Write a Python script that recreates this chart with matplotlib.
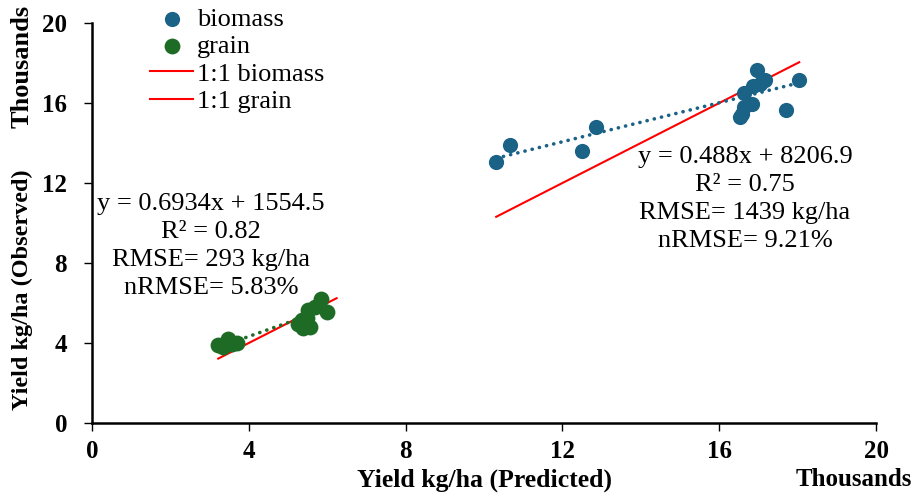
import matplotlib.pyplot as plt
import numpy as np
from matplotlib.ticker import FuncFormatter

# predicted vs observed yield, kg/ha
biomass_pred = [10310, 10660, 12510, 12850, 16960, 17170, 16870, 17040, 18040,
                16620, 16830, 16640, 16570, 16530, 17700]
biomass_obs = [13070, 13920, 13580, 14780, 17650, 17150, 16870, 16930, 17150,
               16480, 15930, 15820, 15430, 15320, 15650]

grain_pred = [3210, 3350, 3460, 3560, 3690, 5250, 5350, 5380, 5480, 5520,
              5560, 5690, 5840, 5990]
grain_obs = [3900, 3800, 4200, 3930, 3980, 4930, 5150, 4750, 5230, 5650,
             4820, 5820, 6200, 5570]

# 1:1 reference segments
one_biomass = [10310, 18040]
one_grain = [3220, 6240]

# linear fits (slope, intercept)
fit_biomass = (0.488, 8206.9)
fit_grain = (0.6934, 1554.5)

ticks = [0, 4000, 8000, 12000, 16000, 20000]

c_bio = '#1b6287'
c_grain = '#1e6b26'
serif = 'Liberation Serif'

fig = plt.figure(figsize=(9.21, 4.96), dpi=100)
ax = fig.add_axes([0.0999, 0.1472, 0.8513, 0.8064])

ax.scatter(biomass_pred, biomass_obs, s=120, color=c_bio, zorder=3, label='biomass', linewidths=0)
ax.scatter(grain_pred, grain_obs, s=130, color=c_grain, zorder=3, label='grain', linewidths=0)
ax.plot(one_biomass, one_biomass, color='red', lw=1.5, label='1:1 biomass', zorder=2)
ax.plot(one_grain, one_grain, color='red', lw=1.5, label='1:1 grain', zorder=2)

# trend lines
for xs, fit, col in [(biomass_pred, fit_biomass, c_bio), (grain_pred, fit_grain, c_grain)]:
    xx = np.array([min(xs), max(xs)])
    ax.plot(xx, fit[0] * xx + fit[1], color=col, lw=2.6, ls=(0, (0.05, 2.0)),
            dash_capstyle='round', zorder=2.5)

ax.set_xlim(0, 20000)
ax.set_ylim(0, 20000)
ax.set_xticks(ticks)
ax.set_yticks(ticks)
fmt = FuncFormatter(lambda v, p: f'{v / 1000:.0f}')
ax.xaxis.set_major_formatter(fmt)
ax.yaxis.set_major_formatter(fmt)

for s in ['top', 'right']:
    ax.spines[s].set_visible(False)
for s in ['left', 'bottom']:
    ax.spines[s].set_linewidth(1.8)
ax.tick_params(direction='out', length=6, width=1)
ax.tick_params(axis='x', pad=6)
ax.tick_params(axis='y', pad=12)
for lab in ax.get_xticklabels() + ax.get_yticklabels():
    lab.set_fontfamily(serif)
    lab.set_fontweight('bold')
    lab.set_fontsize(18)

# axis titles
fig.text(484 / 921, 1 - 480 / 496, 'Yield kg/ha (Predicted)', ha='center', va='center',
         fontfamily=serif, fontweight='bold', fontsize=18.5)
fig.text(854 / 921, 1 - 480 / 496, 'Thousands', ha='center', va='center',
         fontfamily=serif, fontweight='bold', fontsize=18)
fig.text(22 / 921, 1 - 290 / 496, 'Yield kg/ha (Observed)', ha='center', va='center',
         rotation=90, fontfamily=serif, fontweight='bold', fontsize=17.5)
fig.text(22 / 921, 1 - 66 / 496, 'Thousands', ha='center', va='center',
         rotation=90, fontfamily=serif, fontweight='bold', fontsize=19)

# fit statistics
grain_txt = 'y = 0.6934x + 1554.5\nR² = 0.82\nRMSE= 293 kg/ha\nnRMSE= 5.83%'
bio_txt = 'y = 0.488x + 8206.9\nR² = 0.75\nRMSE= 1439 kg/ha\nnRMSE= 9.21%'
fig.text(211 / 921, 1 - 246 / 496, grain_txt, ha='center', va='center', multialignment='center',
         fontfamily=serif, fontsize=19, linespacing=1.37)
fig.text(745 / 921, 1 - 199 / 496, bio_txt, ha='center', va='center', multialignment='center',
         fontfamily=serif, fontsize=19, linespacing=1.35)

leg = ax.legend(loc='upper left', bbox_to_anchor=(0.061, 1.065), frameon=False,
                prop={'family': serif, 'size': 19}, handlelength=1.6,
                handletextpad=0.15, labelspacing=0.145, borderaxespad=0)

fig.savefig('out.png', dpi=100)
